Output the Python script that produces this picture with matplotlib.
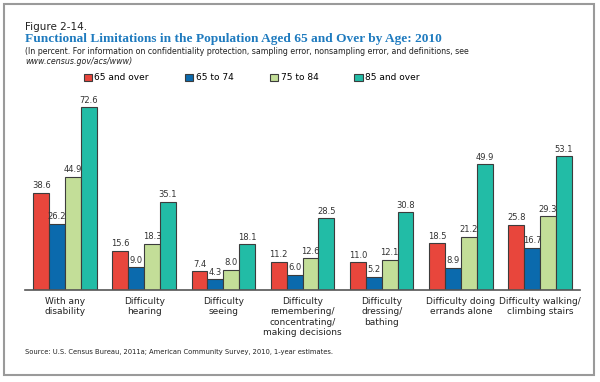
import matplotlib.pyplot as plt
import numpy as np
from matplotlib.patches import Rectangle

# Data
categories = ["With any\ndisability", "Difficulty\nhearing", "Difficulty\nseeing",
              "Difficulty\nremembering/\nconcentrating/\nmaking decisions",
              "Difficulty\ndressing/\nbathing", "Difficulty doing\nerrands alone",
              "Difficulty walking/\nclimbing stairs"]
age_groups = ["65 and over", "65 to 74", "75 to 84", "85 and over"]
v_65_over = [38.6, 15.6, 7.4, 11.2, 11.0, 18.5, 25.8]
v_65_74 = [26.2, 9.0, 4.3, 6.0, 5.2, 8.9, 16.7]
v_75_84 = [44.9, 18.3, 8.0, 12.6, 12.1, 21.2, 29.3]
v_85_over = [72.6, 35.1, 18.1, 28.5, 30.8, 49.9, 53.1]
colors = ['#e8463c', '#0b6aad', '#c3de98', '#22bca6']

W, H = 600, 382
fig = plt.figure(figsize=(6, 3.82), dpi=100)

# outer frame
fig.patches.append(Rectangle((4 / W, 7 / H), 590 / W, 371 / H, transform=fig.transFigure,
                             fill=False, edgecolor='#9a9a9a', lw=1.5))

ax = fig.add_axes([25 / W, (H - 290) / H, 555 / W, 190 / H])

x = np.arange(len(categories))
width = 0.2
series = [v_65_over, v_65_74, v_75_84, v_85_over]
offsets = [-0.3, -0.1, 0.1, 0.3]
handles = []
for vals, off, c, lab in zip(series, offsets, colors, age_groups):
    b = ax.bar(x + off, vals, width, color=c, edgecolor='#3c3c3c', lw=0.8, label=lab)
    handles.append(b)
    for xi, v in zip(x + off, vals):
        ax.text(xi, v + 1.0, f"{v:.1f}", ha='center', va='bottom', fontsize=6,
                color='#333333')

ax.set_xlim(-0.505, 6.505)
ax.set_ylim(0, 75.4)
for s in ['top', 'right', 'left']:
    ax.spines[s].set_visible(False)
ax.spines['bottom'].set_color('#555555')
ax.spines['bottom'].set_linewidth(1.2)
ax.set_yticks([])
ax.set_xticks(x)
ax.set_xticklabels(categories, fontsize=6.5, color='#222222', linespacing=1.2)
ax.tick_params(axis='x', length=0, pad=5)

leg = fig.legend(handles=handles, labels=age_groups, ncol=4, loc='center left',
                 bbox_to_anchor=(80 / W, (H - 78) / H), frameon=False, fontsize=6.5,
                 handlelength=0.9, handleheight=0.9, handletextpad=0.3,
                 columnspacing=4.0, borderaxespad=0)

fig.text(25 / W, (H - 27) / H, "Figure 2-14.", fontsize=7.5, color='#222222', va='center')
fig.text(25 / W, (H - 39) / H,
         "Functional Limitations in the Population Aged 65 and Over by Age: 2010",
         fontsize=9.6, color='#1f7bbf', fontweight='bold', family='Liberation Serif', va='center')
fig.text(25 / W, (H - 51) / H,
         "(In percent. For information on confidentiality protection, sampling error, "
         "nonsampling error, and definitions, see",
         fontsize=5.7, color='#222222', va='center')
fig.text(25 / W, (H - 62) / H, "www.census.gov/acs/www)", fontsize=5.7, color='#222222',
         style='italic', va='center')
fig.text(25 / W, (H - 352) / H,
         "Source: U.S. Census Bureau, 2011a; American Community Survey, 2010, 1-year estimates.",
         fontsize=4.9, color='#222222', va='center')

fig.savefig("out.png", dpi=100)
